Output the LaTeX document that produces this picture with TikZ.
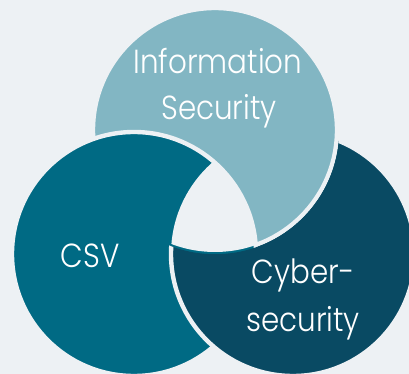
\documentclass[tikz,border=0pt]{standalone}
\usepackage{fontspec}
\setmainfont{Poppins}[UprightFont=* Light,FakeStretch=0.88]
\definecolor{bgcol}{HTML}{EDF1F4}
\definecolor{infocol}{HTML}{82B6C3}
\definecolor{csvcol}{HTML}{006A84}
\definecolor{cybercol}{HTML}{094A63}

\begin{document}
\begin{tikzpicture}[x=0.02cm,y=-0.02cm,
  ring/.style={draw=bgcol,line width=2.5pt},
  tag/.style={text=white,anchor=base,inner sep=0pt,font=\fontsize{19}{24}\selectfont}]
\useasboundingbox (0,0) rectangle (409,374);
\fill[bgcol] (0,0) rectangle (409,374);
\clip (0,0) rectangle (409,374);
\def\rad{122}
\coordinate (info)  at (215,130);
\coordinate (csv)   at (134,254);
\coordinate (cyber) at (293,254);
% cyber under info, info under csv
\path[ring,fill=cybercol] (cyber) circle[radius=\rad];
\path[ring,fill=infocol]  (info)  circle[radius=\rad];
\path[ring,fill=csvcol]   (csv)   circle[radius=\rad];
% cyber over csv, outside info
\begin{scope}[even odd rule]
  \clip (info) circle[radius=\rad+2.2] (-10,-10) rectangle (420,390);
  \path[ring,fill=cybercol] (cyber) circle[radius=\rad];
\end{scope}
% hole in the middle
\begin{scope}
  \clip (info) circle[radius=\rad];
  \clip (csv)  circle[radius=\rad];
  \fill[bgcol] (cyber) circle[radius=\rad];
\end{scope}
\node[tag] (info-a)  at (218,74)  {Information};
\node[tag] (info-b)  at (219,120) {Security};
\node[tag] (csv-a)   at (90,268)  {CSV};
\node[tag] (cyber-a) at (303,284) {Cyber-};
\node[tag] (cyber-b) at (303,332) {security};
\end{tikzpicture}
\end{document}
